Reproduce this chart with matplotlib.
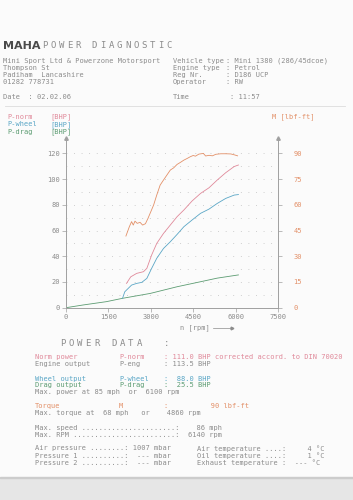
import matplotlib
matplotlib.use("Agg")
import matplotlib.pyplot as plt
from matplotlib.patches import Rectangle

# ================= DATA =================
# Torque M [lbf-ft]
rpm_m = [2120, 2240, 2320, 2380, 2440, 2520, 2620, 2710, 2810, 2900, 3000, 3100, 3210,
         3330, 3450, 3570, 3690, 3810, 3930, 4050, 4170, 4290, 4400, 4500, 4580, 4700,
         4860, 4940, 5060, 5180, 5300, 5480, 5650, 5830, 5950, 6070]
torque = [41.8, 47.2, 50.2, 48.2, 50.5, 49.2, 49.8, 48.2, 49.0, 52.1, 56.0, 59.9, 65.7,
          71.5, 74.5, 77.4, 80.3, 81.6, 83.6, 84.8, 86.1, 87.1, 88.1, 88.8, 88.4, 89.6,
          90.0, 88.5, 88.9, 88.6, 89.5, 89.8, 89.8, 89.7, 89.2, 88.6]

# P-norm [BHP]
rpm_norm = [2140, 2290, 2500, 2740, 2860, 3030, 3210, 3450, 3690, 3930, 4170, 4460,
            4760, 5060, 5350, 5650, 5950, 6100]
p_norm = [18.9, 24.0, 26.7, 28.0, 30.6, 41.0, 50.0, 57.8, 64.3, 70.8, 76.0, 83.0,
          88.9, 93.3, 99.3, 105.0, 109.8, 111.0]

# P-wheel [BHP]
rpm_wheel = [2000, 2080, 2200, 2320, 2500, 2680, 2860, 3030, 3210, 3450, 3690, 3930,
             4170, 4460, 4760, 5060, 5350, 5650, 5950, 6100]
p_wheel = [7.3, 12.4, 15.0, 17.6, 18.9, 19.7, 22.8, 30.6, 38.4, 46.1, 51.3, 57.0,
           63.0, 68.2, 73.4, 76.7, 81.1, 85.0, 87.6, 88.0]

# P-drag [BHP]
rpm_drag = [0, 600, 1430, 2000, 2980, 3930, 4760, 5350, 6100]
p_drag = [0.0, 2.1, 4.7, 7.3, 11.1, 16.3, 20.2, 23.0, 25.5]

x_ticks = [0, 1500, 3000, 4500, 6000, 7500]
y_ticks = [0, 20, 40, 60, 80, 100, 120]
m_ticks = [0, 15, 30, 45, 60, 75, 90]

# ================= STYLE =================
W, H = 353, 500
GRIS = "#8c8c8c"
C_NORM = "#e0899a"
C_WHEEL = "#5aa6c6"
C_DRAG = "#5c9c72"
C_M = "#e39068"
MONO = "DejaVu Sans Mono"
FS = 5


def px(x, y):
    return x / W, 1 - y / H


def txt(x, y, s, color=GRIS, size=FS, **kw):
    fig.text(*px(x, y), s, color=color, fontsize=size, family=MONO,
             va="center", ha=kw.pop("ha", "left"), **kw)


def espaciado(x, y, s, paso, size=6.5):
    # texto con letras muy separadas (impresora)
    for i, c in enumerate(s):
        txt(x + i * paso, y, c, size=size)


fig = plt.figure(figsize=(W / 100, H / 100), dpi=100)
fig.patch.set_facecolor("#fbfbfb")
fig.patches.append(Rectangle((0, 0), 1, 22 / H, transform=fig.transFigure,
                             color="#e6e6e6", zorder=0))
fig.patches.append(Rectangle((0, 22 / H), 1, 0.6 / H, transform=fig.transFigure,
                             color="#cccccc", zorder=0))

# ---- cabecera ----
fig.text(*px(3, 46), "MAHA", fontsize=8, family="DejaVu Sans", weight="bold",
         color="#4a4a4a", va="center")
espaciado(42, 46, "POWER DIAGNOSTIC", 8.3)

izq = ["Mini Sport Ltd & Powerzone Motorsport", "Thompson St",
       "Padiham  Lancashire", "01282 778731"]
der_lab = ["Vehicle type", "Engine type", "Reg Nr.", "Operator"]
der_val = ["Mini 1380 (286/45dcoe)", "Petrol", "D186 UCP", "RW"]
filas = [60.7, 67.7, 74.7, 82.0]
for y, a, b, c in zip(filas, izq, der_lab, der_val):
    txt(3, y, a)
    txt(173, y, b)
    txt(226, y, ": " + c)
txt(3, 97, "Date  : 02.02.06")
txt(173, 97, "Time")
txt(230, 97, ": 11:57")
fig.add_artist(plt.Line2D([5 / W, 345 / W], [1 - 106 / H] * 2, color="#dddddd", lw=0.6))

# ---- leyenda ----
for y, nom, col in [(116.7, "P-norm", C_NORM), (124.3, "P-wheel", C_WHEEL),
                    (131.7, "P-drag", C_DRAG)]:
    txt(7, y, nom, color=col)
    txt(50, y, "[BHP]", color=col)
txt(272, 117, "M [lbf-ft]", color=C_M)

# ---- grafica ----
x0, x1, yb, yt = 66, 278, 307.7, 138
ax = fig.add_axes([x0 / W, 1 - yb / H, (x1 - x0) / W, (yb - yt) / H])
ax.set_facecolor("none")
ax.set_xlim(0, 7500)
ax.set_ylim(0, 132)
for y in range(10, 130, 10):
    ax.axhline(y, color="#c4c4c4", lw=0.7, ls=(0, (0.8, 7)), zorder=0)

ax.plot(rpm_drag, p_drag, color=C_DRAG, lw=0.6)
ax.plot(rpm_wheel, p_wheel, color=C_WHEEL, lw=0.6)
ax.plot(rpm_norm, p_norm, color=C_NORM, lw=0.6)

ax2 = ax.twinx()
ax2.set_ylim(0, 132 * 0.75)
ax2.plot(rpm_m, torque, color=C_M, lw=0.6)

for a in (ax, ax2):
    a.spines["top"].set_visible(False)
    for s in ["left", "right", "bottom"]:
        a.spines[s].set_color("#a0a0a0")
        a.spines[s].set_linewidth(0.6)

ax.set_xticks(x_ticks)
ax.set_yticks(y_ticks)
ax2.set_yticks(m_ticks)
ax.tick_params(axis="both", length=3, width=0.5, color="#a0a0a0", labelsize=FS,
               labelcolor=GRIS, pad=1.5)
ax2.tick_params(axis="y", length=3, width=0.5, color="#a0a0a0", labelsize=FS,
                labelcolor=C_M, pad=8)
for lab in ax.get_xticklabels() + ax.get_yticklabels() + ax2.get_yticklabels():
    lab.set_family(MONO)

# flechas de los ejes
ax.plot([0, 7500], [132, 132], ls="none", marker="^", ms=2.5, color="#a0a0a0",
        clip_on=False)

fig.text(*px(180, 327.5), "n [rpm]", fontsize=FS, family=MONO, color=GRIS, va="center")
fig.add_artist(plt.Line2D([213 / W, 232 / W], [1 - 327.5 / H] * 2, color=GRIS, lw=0.5))
fig.add_artist(plt.Line2D([232 / W], [1 - 327.5 / H], marker=">", ms=2, color=GRIS))

# ---- power data ----
espaciado(60, 344, "POWER DATA", 8.5)
txt(164, 344, ":", size=6.5)

bloque = [
    (356.7, "Norm power", "P-norm", ": 111.0 BHP corrected accord. to DIN 70020", C_NORM),
    (363.7, "Engine output", "P-eng", ": 113.5 BHP", GRIS),
    (378.7, "Wheel output", "P-wheel", ":  88.0 BHP", C_WHEEL),
    (385.3, "Drag output", "P-drag", ":  25.5 BHP", C_DRAG),
    (406.0, "Torque", "M", ":          90 lbf-ft", C_M),
]
for y, a, b, c, col in bloque:
    txt(35, y, a, color=col)
    txt(119, y, b, color=col)
    txt(164, y, c, color=col)
txt(35, 392, "Max. power at 85 mph  or  6100 rpm")
txt(35, 413, "Max. torque at  68 mph   or    4860 rpm")
txt(35, 428, "Max. speed ......................:    86 mph")
txt(35, 435, "Max. RPM ........................:  6140 rpm")

txt(35, 448.3, "Air pressure ........: 1007 mbar")
txt(35, 455.7, "Pressure 1 ..........:  --- mbar")
txt(35, 462.7, "Pressure 2 ..........:  --- mbar")
txt(197, 448.3, "Air temperature ....:     4 °C")
txt(197, 455.7, "Oil temperature ....:     1 °C")
txt(197, 462.7, "Exhaust temperature :  --- °C")

fig.savefig("out.png", dpi=100, facecolor=fig.get_facecolor())
